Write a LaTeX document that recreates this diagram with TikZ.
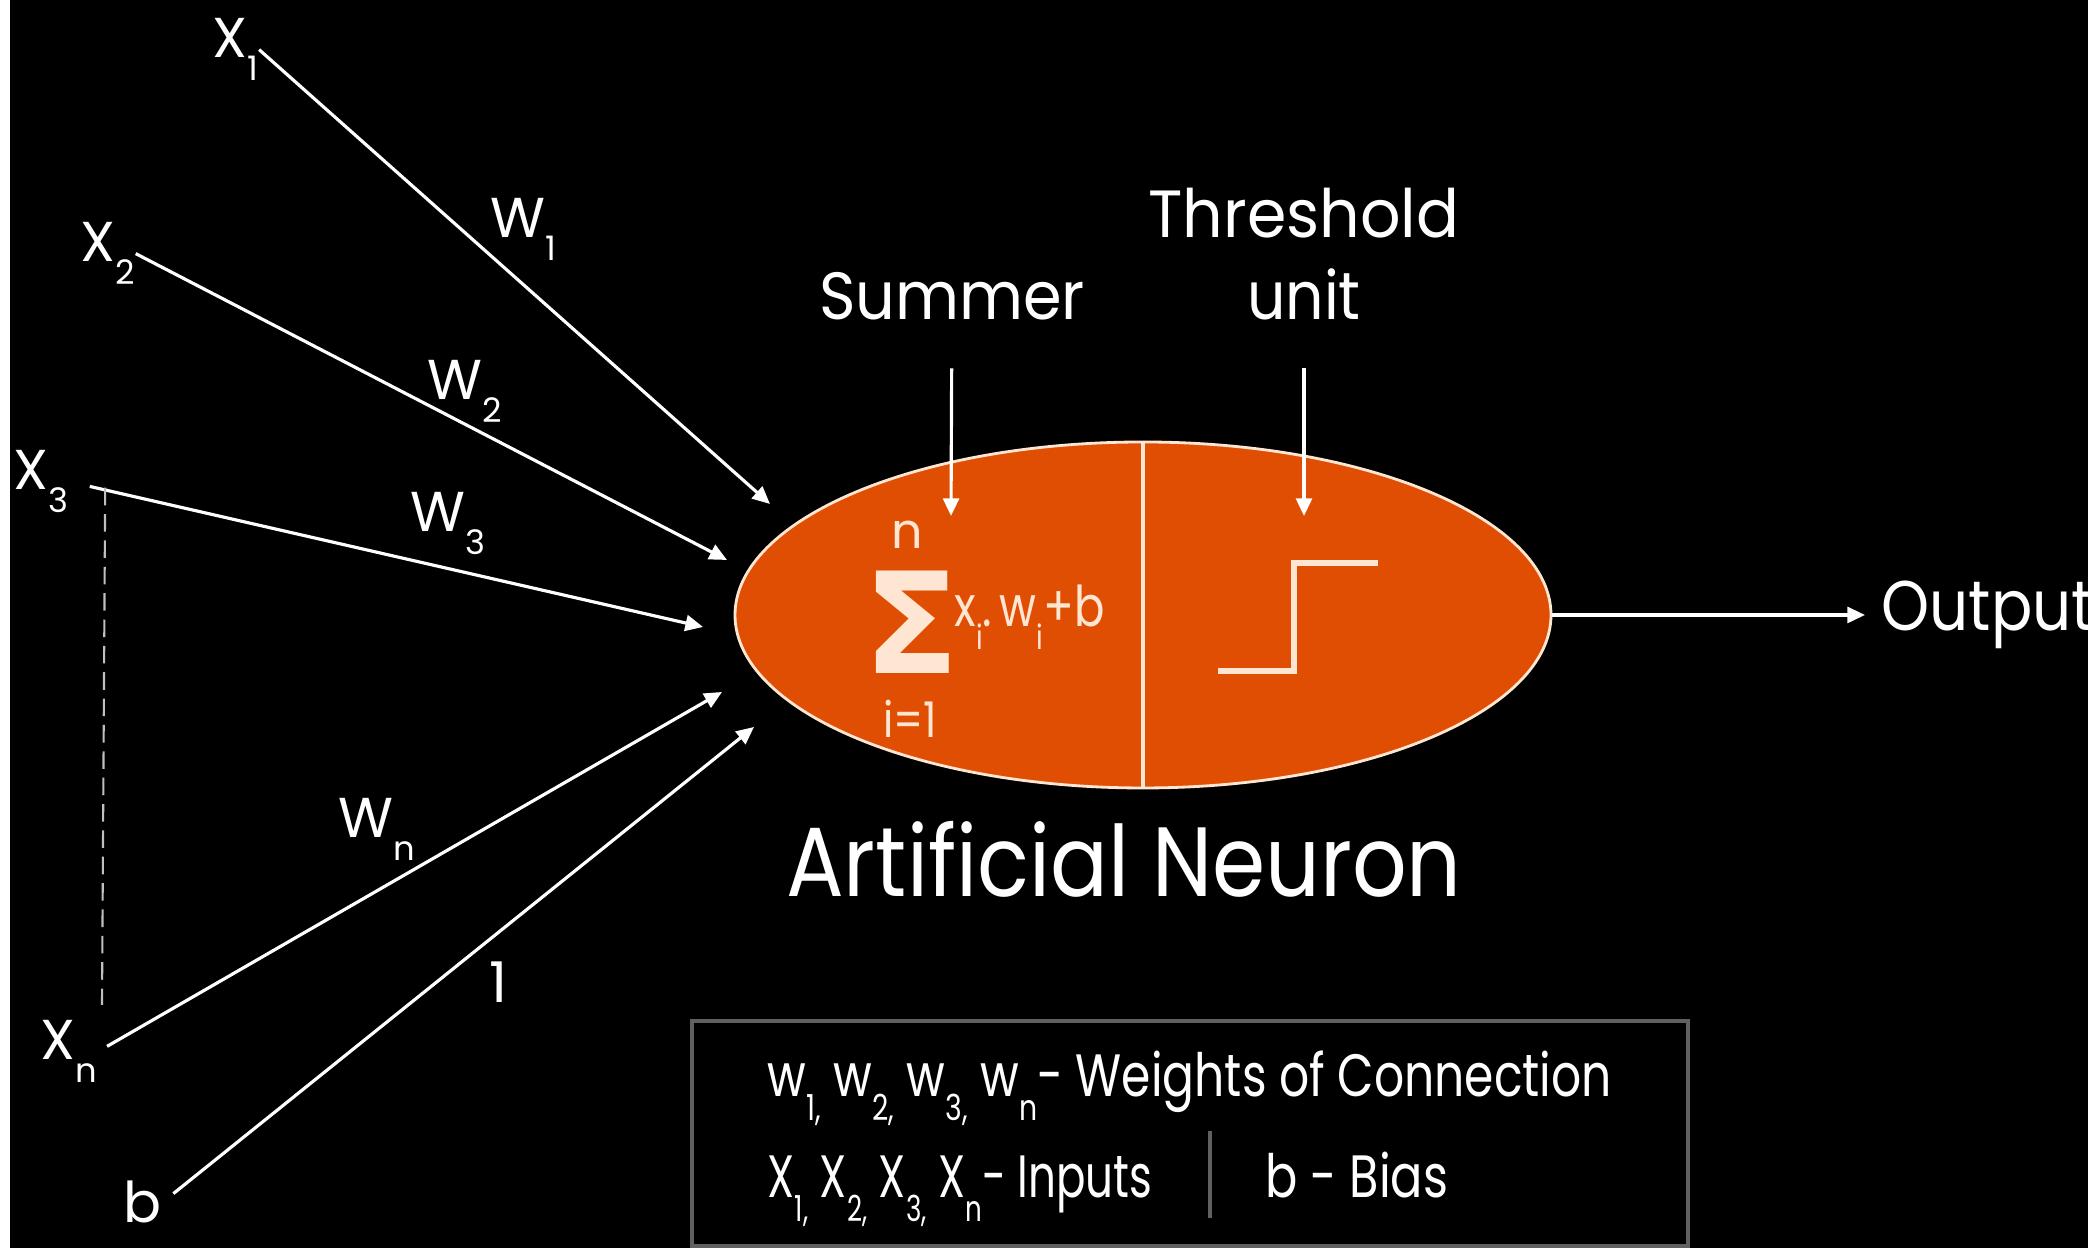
\documentclass[tikz,border=0pt]{standalone}
\usepackage{fontspec}
\setmainfont{Poppins}
\newfontfamily\symfont{DejaVu Sans}
\usepackage{tikz}
\usetikzlibrary{positioning, arrows.meta, shapes.geometric}
\definecolor{nOrange}{HTML}{E04E04}
\definecolor{nCream}{HTML}{FFE6D2}
\definecolor{nGrey}{HTML}{606060}
\newcommand{\dn}[1]{\raisebox{-.4em}{\scalebox{.6}{#1}}}
\newcommand{\squeeze}[2]{\scalebox{#1}[1]{#2}}

\begin{document}
\begin{tikzpicture}[
    txt/.style={text=white, inner sep=0pt},
    lbl/.style={txt, anchor=base west, font=\fontsize{16}{18}\selectfont},
    head/.style={txt, anchor=base, font=\fontsize{19}{21}\selectfont},
    wire/.style={draw=white, line width=0.9pt, -{Triangle[length=5pt,width=4.5pt]}},
  ]
  \useasboundingbox (0,0) rectangle (20.92,12.48);
  \fill[white] (0,0) rectangle (20.92,12.48);
  \fill[black] (0.10,0) rectangle (20.88,12.48);

  % inputs and weights
  \node[lbl] (x1) at (2.12,11.90) {X\dn{1}};
  \node[lbl] (x2) at (0.80,9.86) {X\dn{2}};
  \node[lbl] (x3) at (0.13,7.58) {X\dn{3}};
  \node[lbl] (xn) at (0.40,1.88) {X\dn{n}};
  \node[lbl] (b) at (1.23,0.25) {b};
  \node[lbl] (w1) at (4.90,10.10) {W\dn{1}};
  \node[lbl] (w2) at (4.27,8.48) {W\dn{2}};
  \node[lbl] (w3) at (4.10,7.16) {W\dn{3}};
  \node[lbl] (wn) at (3.38,4.10) {W\dn{n}};
  \node[txt, font=\fontsize{16}{18}\selectfont] (one) at (4.98,2.66) {1};

  % neuron body
  \node[ellipse, draw=nCream, fill=nOrange, line width=0.8pt, inner sep=0pt,
    minimum width=8.16cm, minimum height=3.46cm] (neuron) at (11.43,6.33) {};
  \draw[nCream, line width=1pt] (neuron.north) -- (neuron.south);

  \coordinate (t1) at (7.70,7.44);
  \coordinate (t2) at (7.27,6.88);
  \coordinate (t3) at (7.03,6.21);
  \coordinate (tn) at (7.22,5.56);
  \coordinate (tb) at (7.54,5.21);
  \draw[wire] (x1.east) -- (t1);
  \draw[wire] (x2.east) -- (t2);
  \draw[wire, shorten <=6pt] (x3.east) -- (t3);
  \draw[wire, shorten <=3pt] (xn.east) -- (tn);
  \draw[wire, shorten <=4pt] (b.east) -- (tb);
  \draw[white!75!black, line width=0.6pt, dash pattern=on 5pt off 2.5pt] (x3.east) ++(0.36,-0.06) coordinate (d3) -- (1.02,2.43) coordinate (dn);

  % summer and threshold
  \node[head] (summer) at (9.52,9.28) {\squeeze{.93}{Summer}};
  \node[head] (thresh) at (13.04,10.10) {\squeeze{.95}{Threshold}};
  \node[head] (unit) at (13.04,9.28) {\squeeze{.9}{unit}};
  \coordinate (sumtip) at (9.51,7.32);
  \coordinate (thtip) at (13.04,7.32);
  \draw[wire, shorten <=0.47cm] (summer) -- (sumtip);
  \draw[wire, shorten <=0.47cm] (unit) -- (thtip);

  \node[txt, text=nCream, text height=29pt, text depth=0pt,
    font=\symfont\bfseries\fontsize{40}{40}\selectfont] (sigma) at (9.12,6.25) {Σ};
  \node[txt, text=nCream, text depth=0pt, font=\fontsize{14}{16}\selectfont] (upper) at (9.07,7.13) {n};
  \node[txt, text=nCream, font=\fontsize{14}{16}\selectfont] (lower) at (9.10,5.29) {\squeeze{.85}{i=1}};
  \node[txt, text=nCream, anchor=base west, font=\fontsize{16}{18}\selectfont] (sumtxt) at (9.54,6.21)
    {\squeeze{.8}{x\dn{i}.\,w\dn{i}+b}};
  \draw[nCream, line width=1.8pt] (12.18,5.77) -| (12.94,6.85) -- (13.78,6.85);

  % output
  \node[txt, anchor=west, font=\fontsize{20}{22}\selectfont] (out) at (18.81,6.33) {\squeeze{.87}{Output}};
  \draw[wire, shorten >=0.16cm] (neuron) -- (out);

  \node[txt, anchor=base, font=\fontsize{28}{30}\selectfont] (title) at (11.24,3.51) {\squeeze{.87}{Artificial Neuron}};

  % legend
  \node[draw=nGrey, line width=1.3pt, inner sep=0pt, minimum width=9.96cm, minimum height=2.25cm] (legend) at (11.90,1.145) {};
  \node[txt, anchor=base west, font=\fontsize{17}{19}\selectfont] (lw) at (7.67,1.51)
    {\squeeze{.79}{w\dn{1,} w\dn{2,} w\dn{3,} w\dn{n}- Weights of Connection}};
  \node[txt, anchor=base west, font=\fontsize{17}{19}\selectfont] (lx) at (7.67,0.50)
    {\squeeze{.73}{X\dn{1,} X\dn{2,} X\dn{3,} X\dn{n}- Inputs}};
  \node[txt, anchor=base west, font=\fontsize{17}{19}\selectfont] (lb) at (12.65,0.50)
    {\squeeze{.8}{b - Bias}};
  \draw[nGrey, line width=1.3pt] (12.10,1.17) coordinate (sepT) -- (12.10,0.30) coordinate (sepB);
\end{tikzpicture}
\end{document}
